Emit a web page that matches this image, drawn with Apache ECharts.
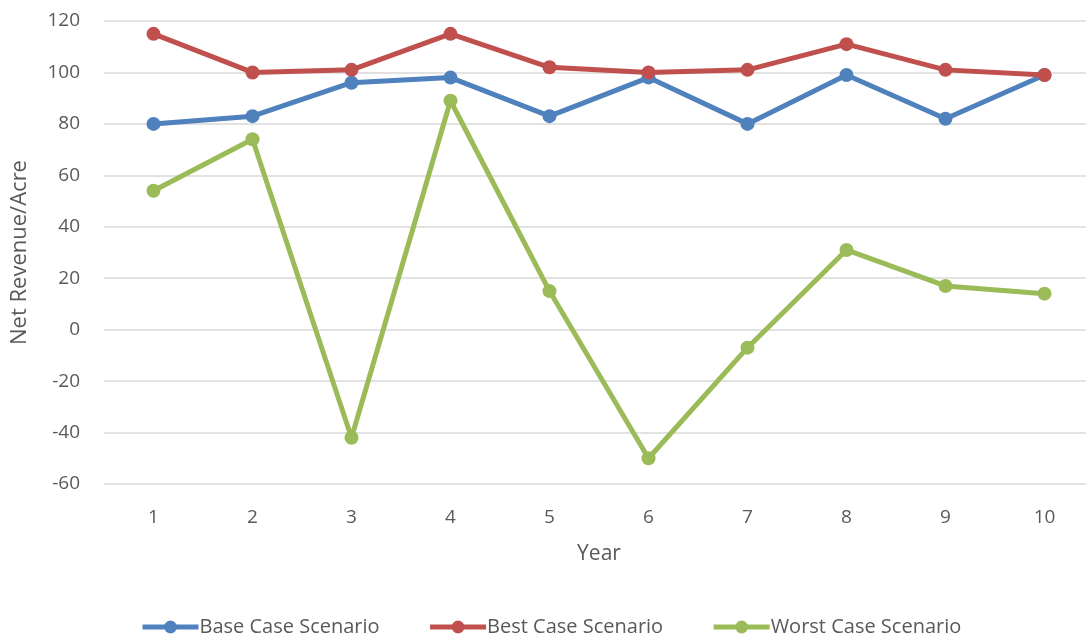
<!DOCTYPE html>
<html>
<head>
<meta charset="utf-8">
<script src="https://cdn.jsdelivr.net/npm/echarts@6/dist/echarts.min.js"></script>
<style>
  html, body { margin: 0; padding: 0; background: #fff; overflow: hidden; }
  #chart { width: 1096px; height: 637px; }
</style>
</head>
<body>
<div id="chart"></div>
<script>
const years = ["1", "2", "3", "4", "5", "6", "7", "8", "9", "10"];
const baseCase = [80, 83, 96, 98, 83, 98, 80, 99, 82, 99];
const bestCase = [115, 100, 101, 115, 102, 100, 101, 111, 101, 99];
const worstCase = [54, 74, -42, 89, 15, -50, -7, 31, 17, 14];

const font = "'Open Sans', Lato, sans-serif";
const textColor = "#595959";

function lineSeries(name, data, color) {
  return {
    name: name,
    type: "line",
    data: data,
    symbol: "circle",
    symbolSize: 14,
    lineStyle: { width: 5, color: color },
    itemStyle: { color: color },
    z: 3
  };
}

const chart = echarts.init(document.getElementById("chart"));
chart.setOption({
  animation: false,
  grid: { left: 104, top: 21, width: 990, height: 463 },
  legend: {
    top: 612,
    left: 135,
    itemWidth: 56,
    itemHeight: 16,
    itemGap: 48,
    lineStyle: { width: 5 },
    textStyle: { fontFamily: font, fontSize: 20, color: textColor, padding: [0, 0, 0, -4] },
    data: ["Base Case Scenario", "Best Case Scenario", "Worst Case Scenario"]
  },
  xAxis: {
    type: "category",
    data: years,
    name: "Year",
    nameLocation: "middle",
    nameGap: 60,
    nameTextStyle: { fontFamily: font, fontSize: 21, color: textColor },
    axisLine: { show: false },
    axisTick: { show: false },
    axisLabel: { fontFamily: font, fontSize: 19, color: textColor, margin: 24 }
  },
  yAxis: {
    type: "value",
    min: -60,
    max: 120,
    interval: 20,
    name: "Net Revenue/Acre",
    nameLocation: "middle",
    nameGap: 73,
    nameTextStyle: { fontFamily: font, fontSize: 22, color: textColor },
    axisLabel: { fontFamily: font, fontSize: 19, color: textColor, margin: 24 },
    splitLine: { lineStyle: { color: "#d9d9d9", width: 1.5 } }
  },
  series: [
    lineSeries("Base Case Scenario", baseCase, "#4F81BD"),
    lineSeries("Best Case Scenario", bestCase, "#C0504D"),
    lineSeries("Worst Case Scenario", worstCase, "#9BBB59")
  ]
});
</script>
</body>
</html>
